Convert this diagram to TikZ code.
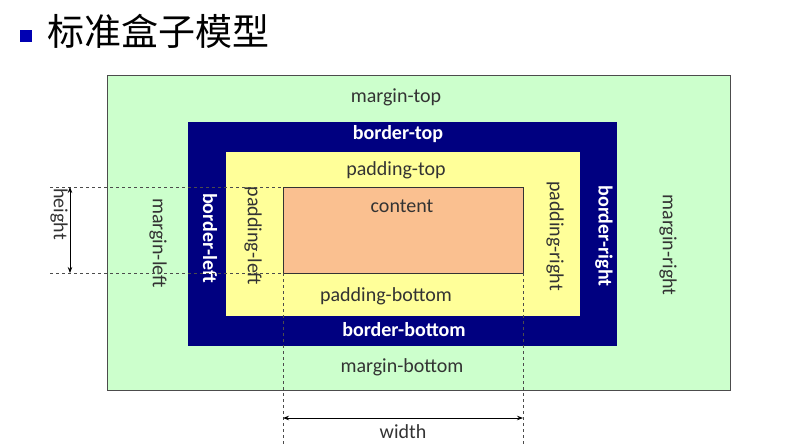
\documentclass[tikz,border=0pt]{standalone}
\usepackage{fontspec}
\setmainfont{Carlito}
\newfontfamily\cjk{Noto Sans CJK SC}
\usetikzlibrary{arrows.meta,positioning}
\definecolor{marginc}{HTML}{CCFFCC}
\definecolor{borderc}{HTML}{000080}
\definecolor{paddingc}{HTML}{FFFF99}
\definecolor{contentc}{HTML}{FAC090}
\tikzset{
  lbl/.style={font=\fontsize{20}{22}\selectfont, text=black!80},
  blbl/.style={font=\fontsize{20}{22}\selectfont\bfseries, text=white},
  dim/.style={thin, dashed, black!70},
  dimarrow/.style={thick, {Stealth[length=6pt]}-{Stealth[length=6pt]}}
}
\begin{document}
\begin{tikzpicture}[x=1pt,y=-1pt]
    \useasboundingbox (0,0) rectangle (788,445);
    %title
    \fill[blue!70!black] (20,30) rectangle (32,42);
    \node[anchor=west, font=\cjk\fontsize{37}{40}\selectfont] (title) at (44,31) {标准盒子模型};
    %boxes
    \draw[fill=marginc, draw=black!70] (107,75) rectangle (730,390);
    \fill[borderc] (188,122) rectangle (617,346);
    \fill[paddingc] (226,152) rectangle (580,316);
    \draw[fill=contentc, draw=black!80] (283,187) rectangle (523,273);
    %labels
    \node[lbl] (mt) at (396,97) {margin-top};
    \node[blbl] (bt) at (398,134) {border-top};
    \node[lbl] (pt) at (396,170) {padding-top};
    \node[lbl] (ct) at (402,206) {content};
    \node[lbl] (pb) at (386,296) {padding-bottom};
    \node[blbl] (bb) at (404,330) {border-bottom};
    \node[lbl] (mb) at (402,367) {margin-bottom};
    \node[lbl, rotate=-90] (ml) at (158,243) {margin-left};
    \node[blbl, rotate=-90] (bl) at (210,238) {border-left};
    \node[lbl, rotate=-90] (pl) at (253,236) {padding-left};
    \node[lbl, rotate=-90] (pr) at (555,236) {padding-right};
    \node[blbl, rotate=-90] (br) at (604,236) {border-right};
    \node[lbl, rotate=-90] (mr) at (668,245) {margin-right};
    %height
    \coordinate (h1) at (50,187);
    \coordinate (h2) at (50,273);
    \draw[dim] (h1) -- (283,187);
    \draw[dim] (h2) -- (283,273);
    \draw[dimarrow] (70,187) -- (70,273);
    \node[lbl, rotate=-90] (hl) at (59,214) {height};
    %width
    \coordinate (w1) at (283,445);
    \coordinate (w2) at (523,445);
    \draw[dim] (283,273) -- (w1);
    \draw[dim] (523,273) -- (w2);
    \draw[dimarrow] (283,418) -- (523,418);
    \node[lbl] (wl) at (403,432) {width};
\end{tikzpicture}
\end{document}
